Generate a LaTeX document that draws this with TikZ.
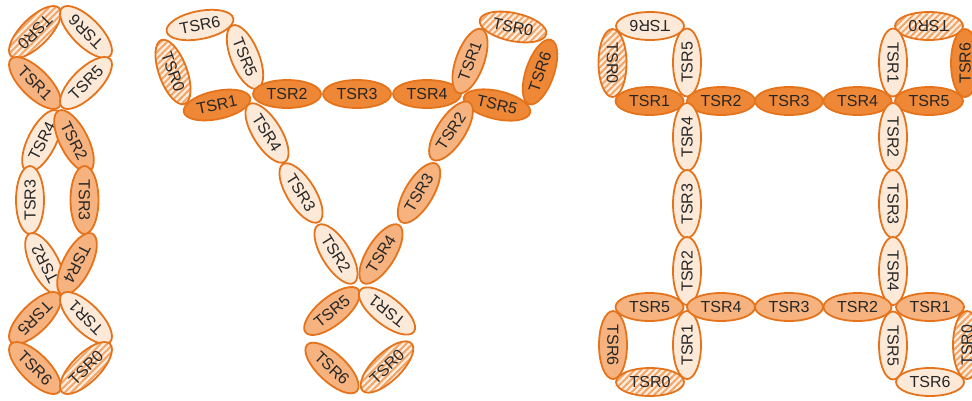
\documentclass[tikz,border=0pt]{standalone}
\usepackage{fontspec}
\setmainfont{Liberation Sans}
\usetikzlibrary{shapes.geometric,patterns.meta}
\definecolor{tsrline}{HTML}{E5731B}
\definecolor{tsrdark}{HTML}{EE8836}
\definecolor{tsrmed}{HTML}{F6B380}
\definecolor{tsrlight}{HTML}{FDE9D8}
\definecolor{tsrhbase}{HTML}{FDEEE2}
\definecolor{tsrhline}{HTML}{F3A566}
\tikzset{
  tsr/.style={ellipse, draw=tsrline, line width=1.8pt, minimum width=68pt,
    minimum height=28pt, inner sep=0pt, text=black!85,
    font=\fontsize{16}{16}\selectfont},
  dk/.style={tsr, fill=tsrdark},
  md/.style={tsr, fill=tsrmed},
  lt/.style={tsr, fill=tsrlight},
  ht/.style={tsr, preaction={fill=tsrhbase},
    pattern={Lines[angle=45,distance=4.5pt,line width=2pt]}, pattern color=tsrhline},
}
\begin{document}
\begin{tikzpicture}[x=1pt,y=-1pt]
\useasboundingbox (0,0) rectangle (972,400);
% ---------- left: ladder ----------
\node[ht, rotate=-135] (La0) at (35,32) {TSR0};
\node[lt, rotate=135]  (Lb6) at (86,32) {TSR6};
\node[md, rotate=-45]  (La1) at (35,83) {TSR1};
\node[lt, rotate=45]   (Lb5) at (86,83) {TSR5};
\node[lt, rotate=63]   (Lb4) at (42,141) {TSR4};
\node[md, rotate=-63]  (La2) at (74,141) {TSR2};
\node[lt, rotate=90]   (Lb3) at (30,200) {TSR3};
\node[md, rotate=-90]  (La3) at (84.5,200) {TSR3};
\node[lt, rotate=117]  (Lb2) at (45,264) {TSR2};
\node[md, rotate=-117] (La4) at (77,264) {TSR4};
\node[md, rotate=-135] (La5) at (35,318) {TSR5};
\node[lt, rotate=135]  (Lb1) at (86,318) {TSR1};
\node[md, rotate=-45]  (La6) at (35,368) {TSR6};
\node[ht, rotate=45]   (Lb0) at (86,368) {TSR0};
% ---------- middle: trimer ----------
\node[lt, rotate=11]  (Mb6) at (200,25) {TSR6};
\node[ht, rotate=-70] (Mc0) at (173,72) {TSR0};
\node[lt, rotate=-68] (Mb5) at (245,57) {TSR5};
\node[dk, rotate=12]  (Mc1) at (217,105) {TSR1};
\node[dk] (Mc2) at (287,94) {TSR2};
\node[dk] (Mc3) at (357,94) {TSR3};
\node[dk] (Mc4) at (427,94) {TSR4};
\node[dk, rotate=-13] (Mc5) at (497,105) {TSR5};
\node[md, rotate=70]  (Ma1) at (470,61) {TSR1};
\node[ht, rotate=-12] (Ma0) at (513,27) {TSR0};
\node[dk, rotate=71]  (Mc6) at (540,72) {TSR6};
\node[lt, rotate=-58] (Mb4) at (267,133) {TSR4};
\node[lt, rotate=-58] (Mb3) at (301,193) {TSR3};
\node[lt, rotate=-58] (Mb2) at (336,254) {TSR2};
\node[md, rotate=57]  (Ma2) at (451,131) {TSR2};
\node[md, rotate=59]  (Ma3) at (419,193) {TSR3};
\node[md, rotate=58]  (Ma4) at (381,254) {TSR4};
\node[md, rotate=39]  (Ma5) at (332,311) {TSR5};
\node[lt, rotate=142] (Mb1) at (387,311) {TSR1};
\node[md, rotate=-43] (Ma6) at (332,368) {TSR6};
\node[ht, rotate=44]  (Mb0) at (387,367) {TSR0};
% ---------- right: tetramer ----------
\node[ht, rotate=-90] (Rc0) at (612.5,63) {TSR0};
\node[lt, rotate=180] (Rb6) at (650,26) {TSR6};
\node[lt, rotate=90]  (Rb5) at (687,62.5) {TSR5};
\node[dk] (Rc1) at (649.5,101) {TSR1};
\node[dk] (Rc2) at (721,101) {TSR2};
\node[dk] (Rc3) at (789,101) {TSR3};
\node[dk] (Rc4) at (857.5,101) {TSR4};
\node[dk] (Rc5) at (929,101) {TSR5};
\node[ht, rotate=180] (Ra0) at (929,26) {TSR0};
\node[dk, rotate=90]  (Rc6) at (965,63) {TSR6};
\node[lt, rotate=-90] (Rd1) at (893,62.5) {TSR1};
\node[lt, rotate=90]  (Rb4) at (687,137) {TSR4};
\node[lt, rotate=90]  (Rb3) at (687,204) {TSR3};
\node[lt, rotate=90]  (Rb2) at (687,271) {TSR2};
\node[lt, rotate=90]  (Rb1) at (687,345) {TSR1};
\node[lt, rotate=-90] (Rd2) at (893,137) {TSR2};
\node[lt, rotate=-90] (Rd3) at (893,204) {TSR3};
\node[lt, rotate=-90] (Rd4) at (893,271) {TSR4};
\node[lt, rotate=-90] (Rd5) at (893,345.5) {TSR5};
\node[lt] (Rd6) at (930,382) {TSR6};
\node[ht, rotate=90]  (Rd0) at (967,345) {TSR0};
\node[md] (Ra5) at (649.5,307) {TSR5};
\node[md] (Ra4) at (721,307) {TSR4};
\node[md] (Ra3) at (789,307) {TSR3};
\node[md] (Ra2) at (857.5,307) {TSR2};
\node[md] (Ra1) at (930,307) {TSR1};
\node[md, rotate=-90] (Ra6) at (613,345) {TSR6};
\node[ht] (Rb0) at (650,382) {TSR0};
\end{tikzpicture}
\end{document}
